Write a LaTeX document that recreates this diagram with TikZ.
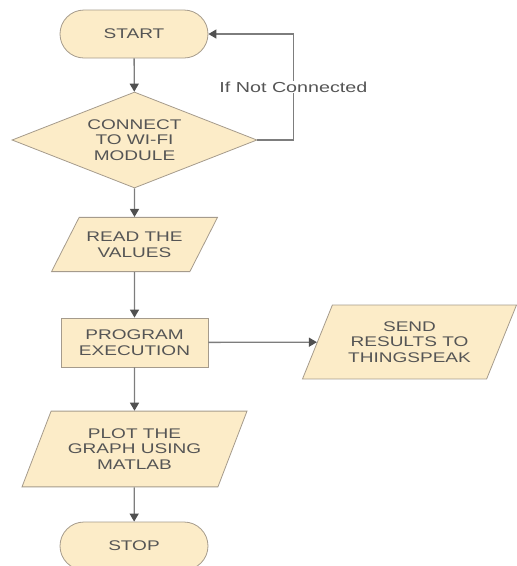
\documentclass[tikz,border=0pt]{standalone}
\usepackage{fontspec}
\setmainfont{Liberation Sans}[FakeStretch=1.36]
\usetikzlibrary{shapes.geometric,arrows.meta}
\definecolor{boxfill}{RGB}{252,236,200}
\definecolor{boxline}{RGB}{165,155,140}
\definecolor{wire}{RGB}{125,125,125}
\definecolor{tipgray}{RGB}{80,80,80}
\definecolor{ink}{RGB}{85,85,85}

\begin{document}
\begin{tikzpicture}[x=1pt,y=-1pt,
	base/.style={draw=boxline,line width=0.8pt,fill=boxfill,text=ink,align=center,inner sep=2pt,
		font=\fontsize{14}{15.5}\selectfont},
	terminal/.style={base,rectangle,rounded corners=24pt,minimum width=148pt,minimum height=48pt},
	decision/.style={base,diamond,shape aspect=2.5,minimum width=245pt,minimum height=96pt,inner sep=0pt},
	process/.style={base,rectangle,minimum width=147pt,minimum height=49pt},
	io/.style={base,trapezium,trapezium left angle=#1,trapezium right angle=180-#1,trapezium stretches body},
	arr/.style={draw=wire,line width=1.3pt,-{Triangle[length=8pt,width=9pt,color=tipgray]}}]
	\useasboundingbox (0,0) rectangle (517,566);
	
	\node[terminal] (start) at (134,34) {START};
	\node[decision] (conn) at (134.5,140) {CONNECT\\TO WI-FI\\MODULE};
	\node[io=63,inner ysep=14.5pt,minimum width=166pt] (read) at (134.5,244.5) {READ THE\\VALUES};
	\node[process] (prog) at (134.5,342.5) {PROGRAM\\EXECUTION};
	\node[io=68,inner ysep=16.5pt,minimum width=214pt] (send) at (409.5,342) {SEND\\RESULTS TO\\THINGSPEAK};
	\node[io=69,inner ysep=17.5pt,minimum width=225pt] (plot) at (134.5,449) {PLOT THE\\GRAPH USING\\MATLAB};
	\node[terminal] (stop) at (134,546) {STOP};
	
	\draw[arr]
	(start)edge(conn)
	(conn)edge(read)
	(read)edge(prog)
	(prog)edge(plot)
	(plot)edge(stop)
	(prog)edge(send);
	
	\draw[arr] (conn.east) -- ++(36,0) |- node[pos=0.25,fill=white,text=ink,inner sep=1pt,
		font=\fontsize{14.5}{16}\selectfont] (lbl) {If Not Connected} (start.east);
\end{tikzpicture}
\end{document}
